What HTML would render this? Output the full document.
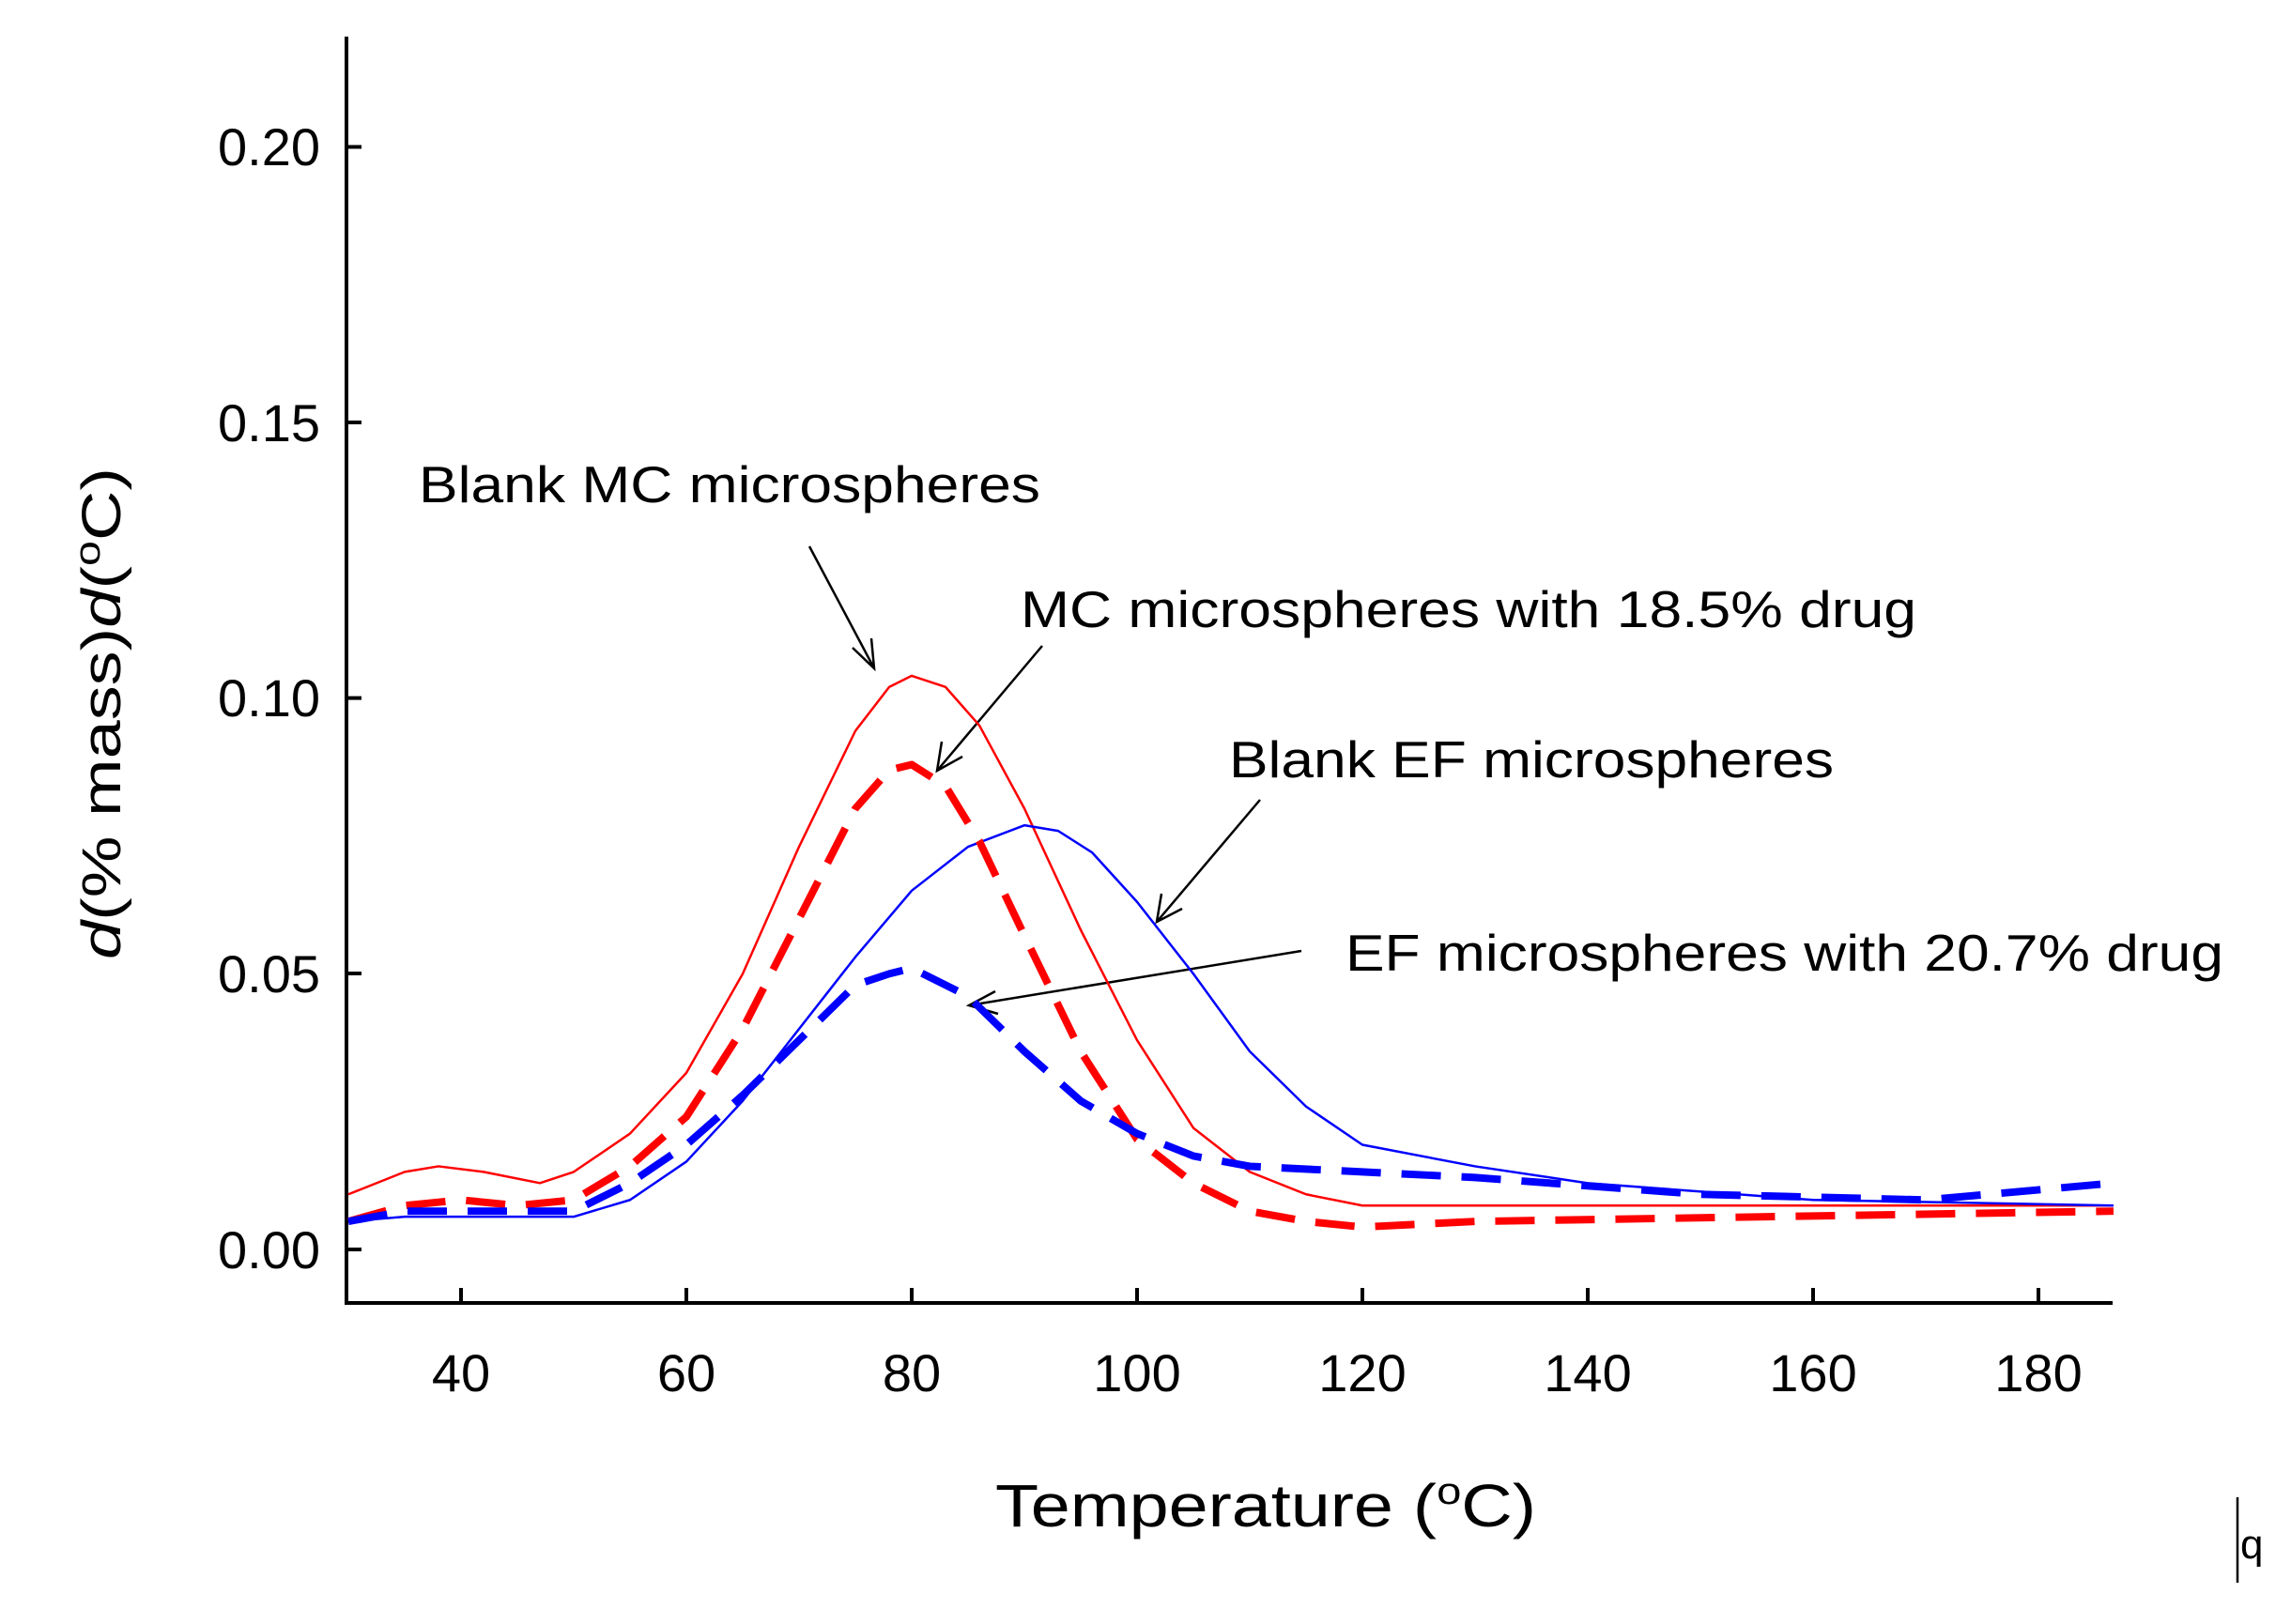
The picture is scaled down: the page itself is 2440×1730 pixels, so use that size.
<!DOCTYPE html>
<html><head><meta charset="utf-8"><style>
html,body{margin:0;padding:0;background:#fff;}
svg{display:block;}
text{font-family:"Liberation Sans",Arial,sans-serif;fill:#000;}
</style></head><body>
<svg width="2440" height="1730" viewBox="0 0 2440 1730" xmlns="http://www.w3.org/2000/svg">
<g stroke="#000" stroke-width="4" fill="none">
<line x1="369" y1="39" x2="369" y2="1390"/>
<line x1="367" y1="1388" x2="2250" y2="1388"/>
<line x1="369" y1="156.5" x2="385" y2="156.5"/>
<line x1="369" y1="450" x2="385" y2="450"/>
<line x1="369" y1="743.6" x2="385" y2="743.6"/>
<line x1="369" y1="1037" x2="385" y2="1037"/>
<line x1="369" y1="1331" x2="385" y2="1331"/>
<line x1="491" y1="1372" x2="491" y2="1388"/>
<line x1="731" y1="1372" x2="731" y2="1388"/>
<line x1="971" y1="1372" x2="971" y2="1388"/>
<line x1="1211" y1="1372" x2="1211" y2="1388"/>
<line x1="1451" y1="1372" x2="1451" y2="1388"/>
<line x1="1691" y1="1372" x2="1691" y2="1388"/>
<line x1="1931" y1="1372" x2="1931" y2="1388"/>
<line x1="2171" y1="1372" x2="2171" y2="1388"/>
</g>
<g font-size="56" text-anchor="end">
<text x="341" y="176">0.20</text>
<text x="341" y="470">0.15</text>
<text x="341" y="763">0.10</text>
<text x="341" y="1057">0.05</text>
<text x="341" y="1351">0.00</text>
</g>
<g font-size="56" text-anchor="middle">
<text x="491" y="1482">40</text>
<text x="731" y="1482">60</text>
<text x="971" y="1482">80</text>
<text x="1211" y="1482">100</text>
<text x="1451" y="1482">120</text>
<text x="1691" y="1482">140</text>
<text x="1931" y="1482">160</text>
<text x="2171" y="1482">180</text>
</g>
<text x="1060" y="1626" font-size="64" textLength="576" lengthAdjust="spacingAndGlyphs">Temperature (<tspan dy="-24" font-size="40">o</tspan><tspan dy="24">C)</tspan></text>
<text transform="translate(128,1022) rotate(-90)" font-size="58" textLength="524" lengthAdjust="spacingAndGlyphs"><tspan font-style="italic">d</tspan>(% mass)<tspan font-style="italic">d</tspan>(<tspan dy="-22" font-size="38">o</tspan><tspan dy="22">C)</tspan></text>

<g font-size="55">
<text x="446" y="535" textLength="662" lengthAdjust="spacingAndGlyphs">Blank MC microspheres</text>
<text x="1087" y="668" textLength="954" lengthAdjust="spacingAndGlyphs">MC microspheres with 18.5% drug</text>
<text x="1309" y="828" textLength="644" lengthAdjust="spacingAndGlyphs">Blank EF microspheres</text>
<text x="1433" y="1034" textLength="935" lengthAdjust="spacingAndGlyphs">EF microspheres with 20.7% drug</text>
</g>
<g stroke="#000" stroke-width="2.5" fill="none">
<line x1="862" y1="582" x2="931" y2="712"/><polyline points="908,690 931,712 928,680"/>
<line x1="1110" y1="688" x2="998" y2="821"/><polyline points="1003,790 998,821 1025,806"/>
<line x1="1342" y1="852" x2="1232" y2="982"/><polyline points="1237,952 1232,982 1259,968"/>
<line x1="1386" y1="1013" x2="1032" y2="1071"/><polyline points="1060,1056 1032,1071 1063,1080"/>
<line x1="2383" y1="1595" x2="2383" y2="1686"/>
</g>
<text x="2386" y="1660" font-size="44">q</text>

<g fill="none" stroke-linejoin="round" transform="matrix(1 0 0 0.99525 0 0.35)">
<polyline stroke="#f00" stroke-width="2.5" points="371,1278 431,1254 467,1248 515,1254 575,1266 611,1254 671,1213 731,1148 791,1042 851,906 911,782 947,735 971,723 1007,735 1043,776 1091,865 1151,995 1211,1113 1271,1207 1331,1254 1391,1278 1451,1290 1691,1290 2251,1290"/>
<polyline stroke="#00f" stroke-width="2.5" points="371,1307 431,1302 611,1302 671,1284 731,1243 791,1178 851,1101 911,1024 971,953 1031,906 1091,883 1127,889 1163,912 1211,965 1271,1042 1331,1125 1391,1184 1451,1225 1571,1248 1691,1266 1931,1284 2251,1290"/>
<polyline stroke="#f00" stroke-width="8" stroke-dasharray="42,22" points="371,1307 431,1290 491,1284 551,1290 611,1284 671,1248 731,1195 791,1101 851,983 911,865 947,824 971,818 1007,841 1043,900 1091,1001 1151,1125 1211,1219 1271,1266 1331,1296 1391,1307 1451,1313 1571,1307 2251,1296"/>
<polyline stroke="#00f" stroke-width="8" stroke-dasharray="42,22" points="371,1307 431,1296 491,1296 611,1296 671,1266 731,1225 791,1172 851,1113 911,1054 947,1042 971,1036 1031,1066 1091,1125 1151,1178 1211,1213 1271,1237 1331,1248 1571,1260 1811,1278 2051,1284 2251,1266"/>
</g>
</svg>
</body></html>
